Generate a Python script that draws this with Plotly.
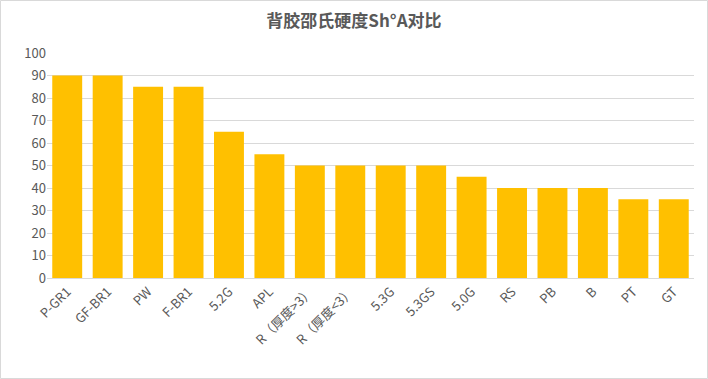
import plotly.graph_objects as go

categories = ["P-GR1", "GF-BR1", "PW", "F-BR1", "5.2G", "APL", "R（厚度>3）", "R（厚度<3）",
              "5.3G", "5.3GS", "5.0G", "RS", "PB", "B", "PT", "GT"]
values = [90, 90, 85, 85, 65, 55, 50, 50, 50, 50, 45, 40, 40, 40, 35, 35]
y_ticks = [0, 10, 20, 30, 40, 50, 60, 70, 80, 90, 100]

W, H = 708, 379
L, R, T, B = 47, 14, 53, 101
pw, ph = W - L - R, H - T - B
y_base = H - B  # pixel row of paper y=0

fig = go.Figure(go.Bar(x=categories, y=values, marker_color="#FFC000", marker_line_width=0))

font = "Noto Sans CJK SC, Microsoft YaHei, sans-serif"
fig.update_layout(
    width=W, height=H,
    margin=dict(l=L, r=R, t=T, b=B, autoexpand=False),
    paper_bgcolor="white", plot_bgcolor="white",
    bargap=0.26,
    title=dict(text="<b>背胶邵氏硬度Sh°A对比</b>", x=0.5, xanchor="center", y=1 - 21 / H, yanchor="middle",
               font=dict(family=font, size=17, color="#595959")),
    font=dict(family=font, size=12, color="#595959"),
    xaxis=dict(tickangle=-45, showgrid=False, showline=True, linecolor="#d9d9d9", linewidth=1,
               ticks="", automargin=False, tickfont=dict(size=13, color="#595959")),
    yaxis=dict(range=[0, 100], tickvals=y_ticks, showgrid=True, gridcolor="#d9d9d9", gridwidth=1,
               zeroline=False, showline=False, ticks="", automargin=False,
               tickfont=dict(size=13, color="#595959")),
    showlegend=False,
    shapes=[dict(type="rect", xref="paper", yref="paper",
                 x0=(0.5 - L) / pw, x1=(W - 0.5 - L) / pw,
                 y0=(y_base - (H - 0.5)) / ph, y1=(y_base - 0.5) / ph,
                 line=dict(color="#d9d9d9", width=1), fillcolor="rgba(0,0,0,0)", layer="below")],
)

fig.write_html("out.html", config={"displayModeBar": False},
               post_script="document.body.style.margin='0';")
